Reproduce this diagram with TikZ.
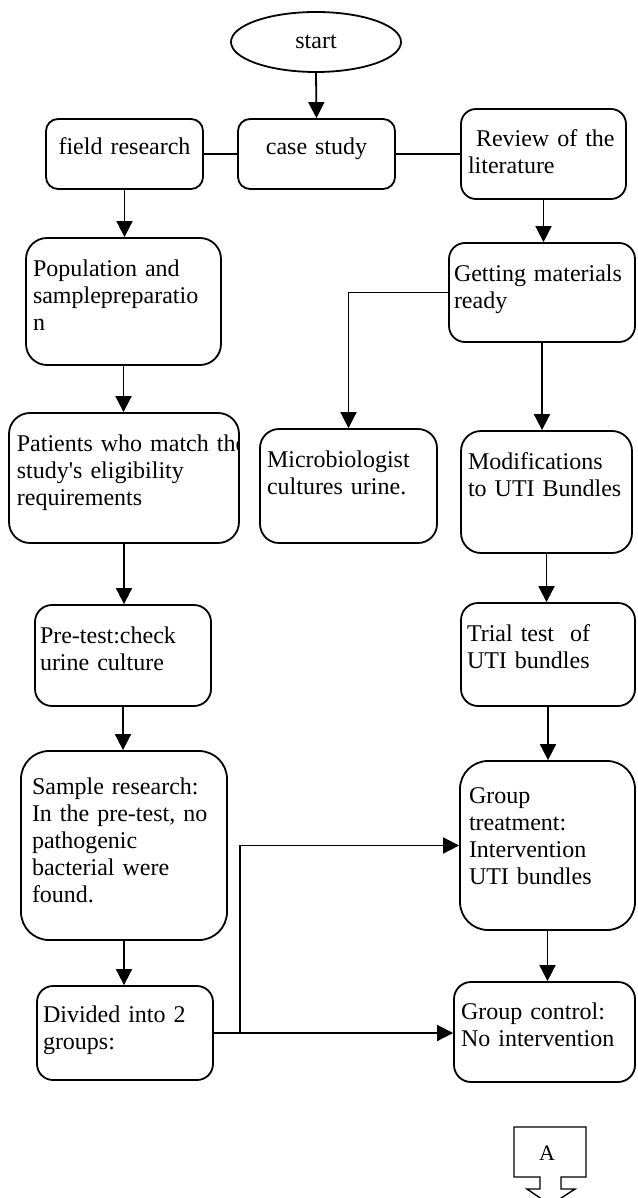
\documentclass[tikz,border=0pt]{standalone}
\usepackage{fontspec}
\setmainfont{Liberation Serif}
\usetikzlibrary{shapes.geometric,arrows.meta}

\begin{document}
\begin{tikzpicture}[x=1pt,y=-1pt]

	%DEFINITIONS
	\tikzstyle{every node}=[font=\fontsize{24}{27}\selectfont]
	\tikzstyle{block} = [draw, line width=1.8pt, align=left, inner xsep=7pt, inner ysep=0pt, text height=38pt]
	\tikzstyle{inicio} = [draw, ellipse, line width=1.8pt, inner sep=0pt, minimum width=170pt, minimum height=60pt]
	\tikzstyle{txt} = [align=left, inner sep=0pt, text width=260pt]
	\tikzstyle{flecha} = [-{Triangle[length=16pt,width=16pt]}, line width=1.8pt]
	\tikzstyle{linea} = [line width=1.8pt]
	\tikzstyle{conector} = [line width=1.4pt]

	\clip (0,0) rectangle (637,1198);

	%BLOCKS
	\draw(316,42) node[inicio](start){start};
	\draw(124.5,154) node[block, align=center, text width=143pt, text height=36pt, text depth=34pt, rounded corners=12pt](field){field research};
	\draw(316.5,154) node[block, align=center, text width=143pt, text height=36pt, text depth=34pt, rounded corners=12pt](case){case study};
	\draw(543.5,154) node[block, text width=151pt, text depth=52pt, rounded corners=15pt](review){\ Review of the\\literature};

	\draw(123.5,301.5) node[block, text width=181pt, text depth=89pt, rounded corners=21pt](pop){Population and\\samplepreparatio\\n};
	\draw(542,292.5) node[block, inner xsep=5pt, text width=176pt, text depth=61pt, rounded corners=16pt](getting){\makebox[176pt][s]{Getting materials}\\ready};

	\draw(124,478) node[block, minimum width=230pt, minimum height=130pt, rounded corners=21pt,
		path picture={\node[txt, anchor=base west] (patientstext) at ([xshift=7pt,yshift=-38pt]path picture bounding box.north west) {Patients who match the\\study\textquotesingle s eligibility\\requirements};}](patients){};
	\draw(348.5,486) node[block, text width=163pt, text depth=76pt, rounded corners=19pt](micro){Microbiologist\\cultures urine.};
	\draw(546.5,492) node[block, text width=157pt, text depth=84pt, rounded corners=20pt](modif){Modifications\\to UTI Bundles};

	\draw(123,655.5) node[block, inner xsep=5pt, text width=166pt, text depth=63pt, rounded corners=17pt](pretest){Pre-test:check\\urine culture};
	\draw(548,654.5) node[block, inner xsep=6pt, text width=162pt, text depth=65pt, rounded corners=17pt](trial){Trial test\ \ of\\UTI bundles};

	\draw(124,845.5) node[block, inner xsep=11pt, text width=184pt, text height=43pt, text depth=146pt, rounded corners=28pt](sample){Sample research:\\In the pre-test, no\\pathogenic\\bacterial were\\found.};
	\draw(547.5,845.5) node[block, inner xsep=9pt, text width=157pt, text height=42pt, text depth=127pt, rounded corners=28pt](gtreat){Group\\treatment:\\Intervention\\UTI bundles};

	\draw(125,1033) node[block, inner xsep=6pt, text width=164pt, text height=36pt, text depth=58pt, rounded corners=16pt](divided){Divided into 2\\groups:};
	\draw(544.5,1032) node[block, text width=167pt, text height=37pt, text depth=63pt, rounded corners=17pt](gcontrol){Group control:\\No intervention};

	%FLECHAS
	\draw[flecha] (start.south) -- (case.north);
	\draw[linea] (field.east) -- (case.west);
	\draw[linea] (case.east) -- (review.west);
	\draw[flecha] (field.south) -- (field.south |- pop.north);
	\draw[flecha] (review.south) -- (review.south |- getting.north);
	\draw[flecha] (getting.west) -| (micro.north);
	\draw[flecha] (getting.south) -- (getting.south |- modif.north);
	\draw[flecha] (pop.south) -- (pop.south |- patients.north);
	\draw[flecha] (patients.south) -- (patients.south |- pretest.north);
	\draw[flecha] (modif.south) -- (modif.south |- trial.north);
	\draw[flecha] (pretest.south) -- (pretest.south |- sample.north);
	\draw[flecha] (trial.south) -- (trial.south |- gtreat.north);
	\draw[flecha] (sample.south) -- (sample.south |- divided.north);
	\draw[flecha] (gtreat.south) -- (gtreat.south |- gcontrol.north);
	\draw[flecha] (divided.east) -- (divided.east -| gcontrol.west);
	\coordinate (split) at ([xshift=26pt]divided.east);
	\draw[flecha] (split) |- (gtreat.west);

	%OFF-PAGE
	\draw[conector] (514,1127) -- (586,1127) -- (586,1177) -- (561,1177) -- (561,1189) -- (575,1189) -- (550.5,1205) -- (527,1189) -- (540,1189) -- (540,1177) -- (514,1177) -- cycle;
	\draw(547,1153) node[font=\fontsize{22}{24}\selectfont, inner sep=0pt](offpage){A};
\end{tikzpicture}
\end{document}
